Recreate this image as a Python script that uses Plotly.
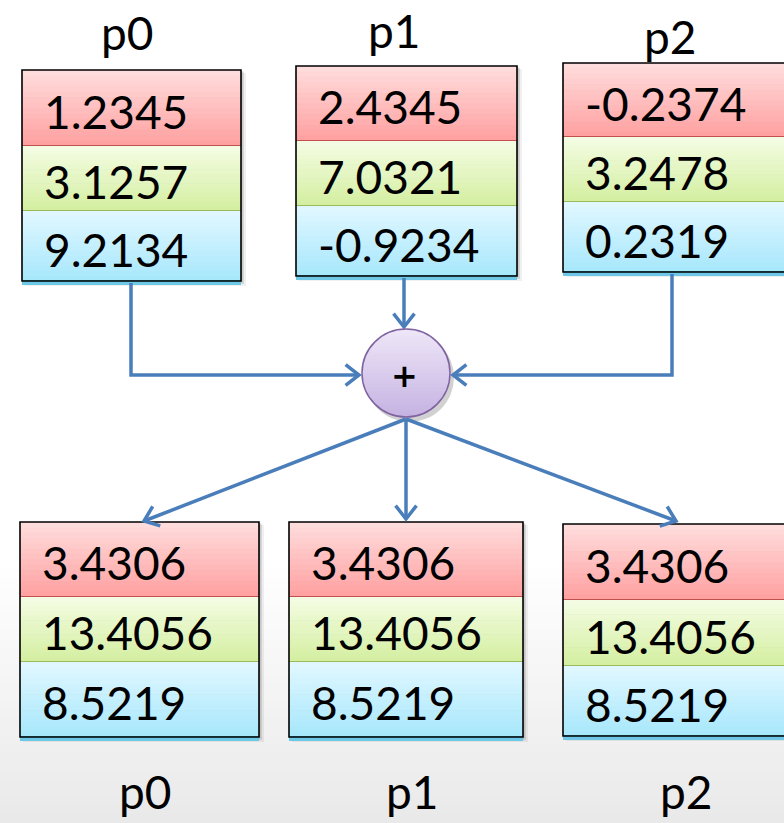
import math
import plotly.graph_objects as go

# ---------------- data ----------------
procs = ["p0", "p1", "p2"]
red_vals = ["1.2345", "2.4345", "-0.2374"]
green_vals = ["3.1257", "7.0321", "3.2478"]
blue_vals = ["9.2134", "-0.9234", "0.2319"]
sum_red = ["3.4306", "3.4306", "3.4306"]
sum_green = ["13.4056", "13.4056", "13.4056"]
sum_blue = ["8.5219", "8.5219", "8.5219"]
op_label = "+"

# ---------------- styling / layout ----------------
W, H = 784, 823
FONT = "Lato"
ROW_GRAD = [("#ffdede", "#ff9f9f"), ("#f4fce4", "#d4efa0"), ("#e2f8ff", "#a6e7fb")]
ROW_EDGE = ["#c0504d", "#9bbb59", "#4bacc6"]
ARROW = "#4a7ebb"

top_x = [(22, 241), (296, 517), (563, 790)]
top_rows = [(70, 146, 211, 281), (66, 141, 206, 276), (63, 137, 202, 272)]
bot_x = [(20, 259), (289, 523), (563, 790)]
bot_rows = [(522, 597, 662, 737), (522, 597, 662, 737), (524, 600, 666, 736)]
top_lab = [(127, 32), (394, 30), (670, 36)]
bot_lab = [(145, 791), (412, 791), (686, 791)]
circ = (406, 373, 44)

shapes = []
annotations = []
fig = go.Figure()


def hexmix(c1, c2, t):
    a = [int(c1[i:i + 2], 16) for i in (1, 3, 5)]
    b = [int(c2[i:i + 2], 16) for i in (1, 3, 5)]
    return "#%02x%02x%02x" % tuple(round(a[k] + (b[k] - a[k]) * t) for k in range(3))


def grad_rect(x0, x1, y0, y1, c_top, c_bot, n=14):
    h = (y1 - y0) / n
    for i in range(n):
        shapes.append(dict(type="rect", x0=x0, x1=x1, y0=y0 + i * h, y1=y0 + (i + 1) * h + 0.6,
                           fillcolor=hexmix(c_top, c_bot, (i + 0.5) / n), line_width=0, layer="below"))


# background (white to light grey at the bottom)
nb = 30
for i in range(nb):
    y0 = 560 + i * (H - 560) / nb
    shapes.append(dict(type="rect", x0=0, x1=W, y0=y0, y1=y0 + (H - 560) / nb + 1,
                       fillcolor=hexmix("#ffffff", "#e9e9e9", (i + 0.5) / nb), line_width=0, layer="below"))


def draw_box(xs, rows, vals, strip):
    x0, x1 = xs
    # shadow
    for off, a in ((5, 0.06), (3, 0.10), (1.5, 0.12)):
        shapes.append(dict(type="rect", x0=x0 + off * 0.6, x1=x1 + off, y0=rows[0] + off * 0.6, y1=rows[3] + off,
                           fillcolor="rgba(0,0,0,%s)" % a, line_width=0, layer="below"))
    for r in range(3):
        grad_rect(x0, x1, rows[r], rows[r + 1], *ROW_GRAD[r])
        shapes.append(dict(type="line", x0=x0, x1=x1, y0=rows[r + 1], y1=rows[r + 1],
                           line=dict(color=ROW_EDGE[r], width=2), layer="below"))
        annotations.append(dict(x=x0 + 20, y=(rows[r] + rows[r + 1]) / 2 + 3, text=vals[r],
                                showarrow=False, xanchor="left", yanchor="middle",
                                font=dict(family=FONT, size=46, color="black")))
    if strip:
        shapes.append(dict(type="rect", x0=x0, x1=x1, y0=rows[3], y1=rows[3] + 4,
                           fillcolor="#6cc8e6", line_width=0, layer="below"))
    shapes.append(dict(type="rect", x0=x0, x1=x1, y0=rows[0], y1=rows[3],
                       line=dict(color="black", width=1.6), layer="below"))


for i in range(3):
    draw_box(top_x[i], top_rows[i], [red_vals[i], green_vals[i], blue_vals[i]], True)
    draw_box(bot_x[i], bot_rows[i], [sum_red[i], sum_green[i], sum_blue[i]], True)
    annotations.append(dict(x=top_lab[i][0], y=top_lab[i][1], text=procs[i], showarrow=False,
                            xanchor="center", yanchor="middle", font=dict(family=FONT, size=46, color="black")))
    annotations.append(dict(x=bot_lab[i][0], y=bot_lab[i][1], text=procs[i], showarrow=False,
                            xanchor="center", yanchor="middle", font=dict(family=FONT, size=46, color="black")))

# circle with shadow and gradient
cx, cy, cr = circ
shapes.append(dict(type="circle", x0=cx - cr + 3, x1=cx + cr + 4, y0=cy - cr + 4, y1=cy + cr + 5,
                   fillcolor="rgba(0,0,0,0.18)", line_width=0, layer="below"))
nc = 24
for i in range(nc):
    ya = cy - cr + i * 2 * cr / nc
    yb = ya + 2 * cr / nc
    steps = 6
    pts_l, pts_r = [], []
    for k in range(steps + 1):
        y = ya + (yb - ya) * k / steps
        w = math.sqrt(max(cr * cr - (y - cy) ** 2, 0))
        pts_l.append((cx - w, y))
        pts_r.append((cx + w, y))
    poly = pts_l + pts_r[::-1]
    col = hexmix("#efe7f8", "#c5b2e2", (i + 0.5) / nc)
    fig.add_trace(go.Scatter(x=[p[0] for p in poly] + [poly[0][0]], y=[p[1] for p in poly] + [poly[0][1]],
                             mode="lines", fill="toself", line=dict(width=0.8, color=col),
                             fillcolor=col, hoverinfo="skip", showlegend=False))
shapes.append(dict(type="circle", x0=cx - cr, x1=cx + cr, y0=cy - cr, y1=cy + cr,
                   line=dict(color="#8064a2", width=1.5), layer="above"))
annotations.append(dict(x=cx - 2, y=cy + 3, text="<b>" + op_label + "</b>", showarrow=False,
                        font=dict(family="DejaVu Sans", size=32, color="black")))


def arrow(points, head=17, ang=38):
    xs = [p[0] for p in points]
    ys = [p[1] for p in points]
    fig.add_trace(go.Scatter(x=xs, y=ys, mode="lines", line=dict(color=ARROW, width=3.5),
                             hoverinfo="skip", showlegend=False))
    (xa, ya), (xb, yb) = points[-2], points[-1]
    th = math.atan2(yb - ya, xb - xa)
    hx = [xb + head * math.cos(th + math.pi + math.radians(ang)), xb,
          xb + head * math.cos(th + math.pi - math.radians(ang))]
    hy = [yb + head * math.sin(th + math.pi + math.radians(ang)), yb,
          yb + head * math.sin(th + math.pi - math.radians(ang))]
    fig.add_trace(go.Scatter(x=hx, y=hy, mode="lines", line=dict(color=ARROW, width=3.5),
                             hoverinfo="skip", showlegend=False))


arrow([(131, 283), (131, 375), (359, 375)])
arrow([(404, 278), (404, 327)])
arrow([(672, 274), (672, 375), (453, 375)])
arrow([(406, 419), (144, 521)])
arrow([(406, 419), (406, 519)])
arrow([(406, 419), (676, 521)])

fig.update_layout(
    width=W, height=H, margin=dict(l=0, r=0, t=0, b=0),
    paper_bgcolor="white", plot_bgcolor="white",
    xaxis=dict(range=[0, W], visible=False, fixedrange=True),
    yaxis=dict(range=[H, 0], visible=False, fixedrange=True),
    shapes=shapes, annotations=annotations, showlegend=False,
)
fig.write_html("out.html", config={"displayModeBar": False},
               post_script="document.body.style.margin='0';document.body.style.overflow='hidden';")
